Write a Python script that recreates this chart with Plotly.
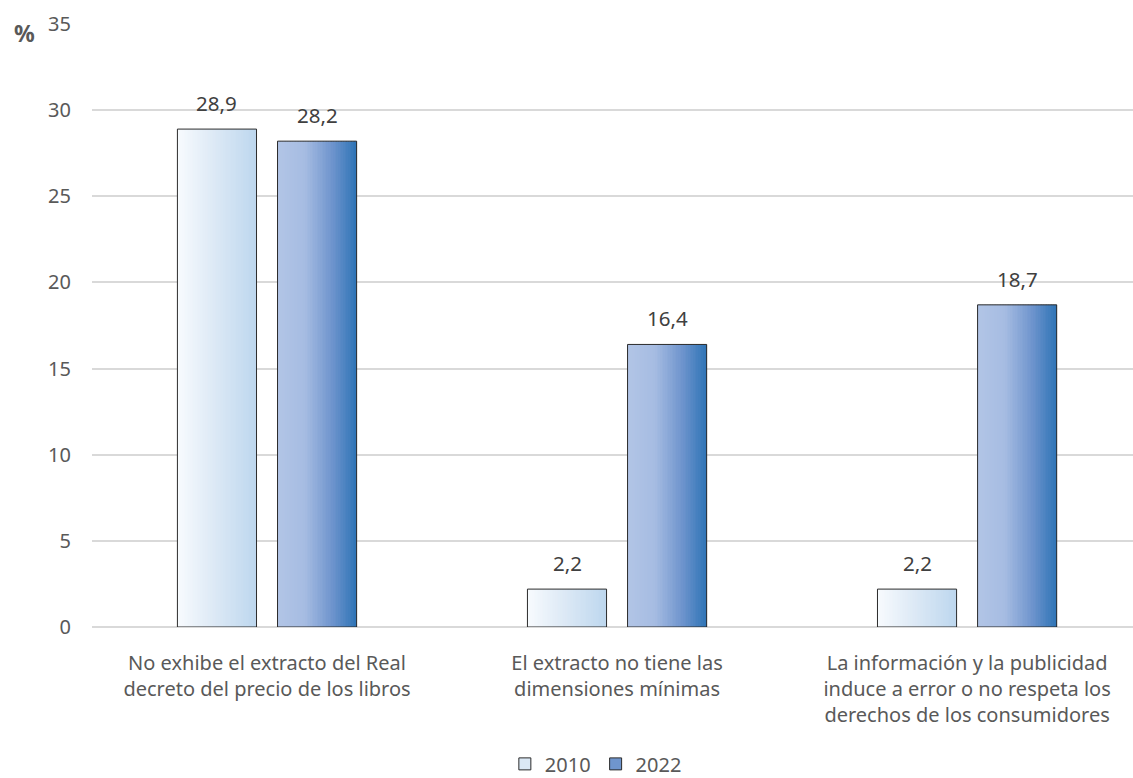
import plotly.graph_objects as go

# Data
categories = [
    "No exhibe el extracto del Real<br>decreto del precio de los libros",
    "El extracto no tiene las<br>dimensiones mínimas",
    "La información y la publicidad<br>induce a error o no respeta los<br>derechos de los consumidores",
]
years = ["2010", "2022"]
values_2010 = [28.9, 2.2, 2.2]
values_2022 = [28.2, 16.4, 18.7]
y_ticks = [0, 5, 10, 15, 20, 25, 30, 35]

# Styling
FONT = "Noto Sans"
TEXT_COLOR = "#595959"
LABEL_COLOR = "#404040"
FS = 20
BAR_WIDTH = 0.226
BAR_SHIFT = 0.143
N_SLICES = 48

# Horizontal gradient stops (position, rgb) for each series
gradients = {
    "2010": [(0.0, (248, 251, 254)), (0.5, (219, 232, 245)), (1.0, (189, 215, 238))],
    "2022": [(0.0, (178, 197, 230)), (0.35, (166, 188, 226)), (0.7, (110, 148, 205)), (1.0, (46, 116, 182))],
}
legend_colors = {"2010": "#dbe8f5", "2022": "#6f95cd"}


def grad_color(stops, t):
    for (p0, c0), (p1, c1) in zip(stops, stops[1:]):
        if p0 <= t <= p1:
            f = (t - p0) / (p1 - p0) if p1 > p0 else 0
            r, g, b = (round(a + (bb - a) * f) for a, bb in zip(c0, c1))
            return f"rgb({r},{g},{b})"
    r, g, b = stops[-1][1]
    return f"rgb({r},{g},{b})"


fig = go.Figure()
series = [("2010", values_2010, -BAR_SHIFT), ("2022", values_2022, BAR_SHIFT)]
slice_w = BAR_WIDTH / N_SLICES
annotations = []

for name, vals, shift in series:
    left = shift - BAR_WIDTH / 2
    # gradient fill built from thin vertical slices
    for k in range(N_SLICES):
        t = (k + 0.5) / N_SLICES
        fig.add_trace(go.Bar(
            x=categories, y=vals,
            offset=left + k * slice_w, width=slice_w * 1.15,
            marker=dict(color=grad_color(gradients[name], t), line=dict(width=0)),
            showlegend=False, hoverinfo="skip",
        ))
    # outline
    fig.add_trace(go.Bar(
        x=categories, y=vals, name=name,
        offset=left, width=BAR_WIDTH,
        marker=dict(color="rgba(0,0,0,0)", line=dict(color="#2b2b2b", width=1)),
        showlegend=False,
    ))
    # value labels above the bars
    for i, v in enumerate(vals):
        annotations.append(dict(
            x=i + shift, y=v, xref="x", yref="y",
            text=f"{v:.1f}".replace(".", ","), showarrow=False,
            yanchor="bottom", yshift=10,
            font=dict(family=FONT, size=20.5, color=LABEL_COLOR),
        ))

# legend entries
for name in years:
    fig.add_trace(go.Bar(
        x=[None], y=[None], name=name,
        marker=dict(color=legend_colors[name], line=dict(color="#2b2b2b", width=1)),
    ))

annotations.append(dict(
    text="<b>%</b>", xref="paper", yref="paper", x=-0.077, y=0.985,
    xanchor="left", yanchor="middle", showarrow=False,
    font=dict(family=FONT, size=23, color=TEXT_COLOR),
))

fig.update_layout(
    width=1133, height=778,
    margin=dict(l=92, r=0, t=24, b=151, autoexpand=False),
    plot_bgcolor="white", paper_bgcolor="white",
    barmode="overlay",
    separators=",.",
    font=dict(family=FONT, size=FS, color=TEXT_COLOR),
    showlegend=True,
    legend=dict(
        orientation="h", x=0.484, xanchor="center", y=-0.227, yanchor="middle",
        font=dict(family=FONT, size=FS, color=TEXT_COLOR),
        itemwidth=30, traceorder="normal", tracegroupgap=0,
    ),
    annotations=annotations,
)
fig.update_xaxes(
    type="category", range=[-0.5, 2.474], showgrid=False, showline=False, ticks="",
    tickfont=dict(family=FONT, size=FS, color=TEXT_COLOR), ticklabelstandoff=22,
    automargin=False,
)
fig.update_yaxes(
    range=[0, 35], tickvals=y_ticks, showgrid=True, gridcolor="#d9d9d9", gridwidth=1.5,
    zeroline=True, zerolinecolor="#d9d9d9", zerolinewidth=1.5,
    tickfont=dict(family=FONT, size=FS, color=TEXT_COLOR), ticklabelstandoff=20,
    automargin=False,
)

fig.write_html("out.html")
